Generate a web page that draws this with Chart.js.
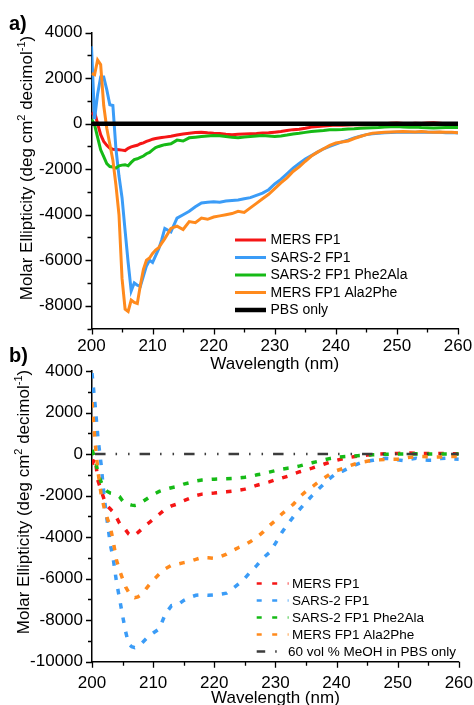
<!DOCTYPE html>
<html>
<head>
<meta charset="utf-8">
<title>CD spectra</title>
<script src="https://cdn.jsdelivr.net/npm/chart.js@4"></script>
<style>
  html, body { margin: 0; padding: 0; background: #fff; }
  body { width: 474px; height: 705px; position: relative; overflow: hidden; }
  .panel { position: absolute; left: 0; width: 484px; }
  #panelA { top: 0; height: 380px; }
  #panelB { top: 340px; height: 375px; }
</style>
</head>
<body>
<div class="panel" id="panelA"><canvas id="chartA"></canvas></div>
<div class="panel" id="panelB"><canvas id="chartB"></canvas></div>
<script>
// ============================================
// CD spectra: a) in PBS, b) in 60 vol % MeOH
// ============================================

var FONT = '"Liberation Sans", Arial, sans-serif';

// ---- Panel a: wavelengths (nm) and molar ellipticity ----
var wavelengthsA = [200, 200.5, 201, 201.5, 202, 202.5, 203, 203.5, 204, 204.5, 205, 205.5, 206, 206.5, 207, 207.5,
    208, 208.5, 209, 209.5, 210, 210.5, 211, 211.5, 212,
    213, 214, 215, 216, 217, 218, 219, 220, 221, 222,
    223, 224, 225, 226, 227, 228, 229, 230, 231, 232,
    233, 234, 235, 236, 237, 238, 239, 240, 241, 242,
    243, 244, 245, 246, 247, 248, 249, 250, 251, 252,
    253, 254, 255, 256, 257, 258, 259, 260];

var mersFp1A = [400, 520, 0, -480, -780, -950, -1080, -1120, -1130, -1140, -1160, -1180, -1080, -1020, -980, -950,
    -880, -840, -780, -730, -680, -650, -630, -610, -590,
    -550, -500, -450, -420, -390, -370, -400, -420, -430, -460,
    -480, -460, -450, -440, -430, -410, -400, -370, -340, -300,
    -260, -240, -200, -150, -120, -100, -80, -60, -70, -60,
    -50, -40, -40, -30, -20, 0, 20, 30, 10, 0,
    20, 10, 30, 40, 20, 0, -10, -30];

var sars2Fp1A = [3400, 200, 1300, 2050, 2050, 1500, 830, 800, -1100, -2300, -3250, -4700, -6100, -7350, -7000, -7100,
    -7150, -6700, -6250, -6000, -6100, -5800, -5500, -5100, -4600,
    -4750, -4150, -4000, -3850, -3650, -3480, -3450, -3430, -3450, -3400,
    -3370, -3350, -3300, -3250, -3150, -3050, -2900, -2650, -2450, -2200,
    -1950, -1750, -1550, -1400, -1250, -1100, -1000, -900, -800, -720,
    -620, -550, -480, -440, -420, -400, -390, -380, -370, -370,
    -380, -360, -370, -380, -370, -400, -390, -410];

var sars2Phe2AlaA = [200, -40, -600, -1150, -1450, -1750, -1880, -1900, -1950, -1850, -1820, -1800, -1850, -1700, -1580, -1540,
    -1480, -1420, -1320, -1260, -1150, -1050, -1000, -960, -920,
    -880, -720, -760, -620, -590, -560, -540, -520, -530, -560,
    -600, -620, -580, -560, -540, -520, -540, -560, -540, -500,
    -450, -420, -380, -340, -320, -300, -270, -260, -250, -230,
    -220, -200, -190, -180, -170, -150, -130, -120, -140, -160,
    -150, -170, -180, -190, -180, -170, -170, -170];

var mersAla2PheA = [2200, 2150, 2800, 2600, 800, -200, -900, -1600, -2700, -4000, -6800, -8150, -8250, -7750, -7850, -7900,
    -7100, -6400, -6000, -5900, -5700, -5550, -5450, -5250, -5050,
    -4600, -4500, -4650, -4300, -4350, -4150, -4200, -4100, -4050, -4000,
    -3950, -3850, -3900, -3700, -3500, -3300, -3100, -2850, -2600, -2380,
    -2100, -1900, -1650, -1420, -1250, -1100, -950, -850, -800, -760,
    -650, -560, -480, -420, -400, -380, -360, -350, -340, -350,
    -360, -340, -360, -370, -360, -370, -380, -400];

var pbsWavelengthsA = [200, 260];
var pbsA = [0, 0];

// ---- Panel b ----
var wavelengthsB = [200, 200.5, 201, 201.5, 202, 202.5, 203, 203.5, 204, 204.5, 205, 205.5, 206, 206.5, 207, 207.5,
    208, 208.5, 209, 209.5, 210,
    211, 212, 213, 214, 215, 216, 217, 218, 219, 220,
    221, 222, 223, 224, 225, 226, 227, 228, 229, 230,
    231, 232, 233, 234, 235, 236, 237, 238, 239, 240,
    241, 242, 243, 244, 245, 246, 247, 248, 249, 250,
    251, 252, 253, 254, 255, 256, 257, 258, 259, 260];

var mersFp1B = [-500, -200, -1300, -1750, -2200, -2500, -2650, -2800, -3050, -3330, -3500, -3650, -3850, -3950, -3900, -3780,
    -3650, -3500, -3380, -3270, -3150,
    -2900, -2650, -2500, -2400, -2250, -2130, -2000, -1930, -1900, -1880,
    -1850, -1820, -1790, -1740, -1690, -1600, -1500, -1420, -1340, -1240,
    -1160, -1070, -950, -850, -760, -680, -580, -480, -380, -300,
    -230, -170, -120, -80, -50, -20, 0, 10, 20, 30,
    40, 50, 40, 30, 30, 20, 30, 30, 20, 10];

var sars2Fp1B = [3900, 2380, 700, -520, -2100, -3250, -4350, -5100, -6150, -6950, -7780, -8550, -9150, -9280, -9320, -9260,
    -9150, -9000, -8850, -8720, -8620,
    -8420, -7700, -7300, -7270, -7050, -6900, -6800, -6780, -6800, -6780,
    -6750, -6700, -6480, -6250, -5980, -5650, -5350, -5000, -4750, -4300,
    -3800, -3380, -3000, -2650, -2320, -2000, -1700, -1420, -1150, -920,
    -820, -680, -530, -420, -350, -300, -250, -200, -220, -280,
    -320, -250, -200, -280, -300, -300, -220, -200, -230, -250];

var sars2Phe2AlaB = [200, -200, -950, -1350, -1650, -1800, -1880, -1910, -1950, -2050, -2250, -2380, -2420, -2460, -2480, -2450,
    -2350, -2250, -2150, -2050, -1950,
    -1800, -1700, -1620, -1560, -1450, -1380, -1300, -1250, -1230, -1210,
    -1200, -1190, -1180, -1150, -1120, -1070, -1000, -950, -870, -800,
    -730, -680, -640, -570, -490, -420, -350, -280, -210, -160,
    -130, -110, -90, -70, -50, -30, -20, -10, 0, 0,
    0, 0, 10, 0, 0, 0, 10, 0, 0, 0];

var mersAla2PheB = [2500, 600, -900, -1950, -2600, -3100, -3500, -4250, -5100, -5600, -6000, -6400, -6650, -6850, -6920, -6880,
    -6780, -6620, -6430, -6250, -6080,
    -5780, -5520, -5360, -5300, -5230, -5170, -5070, -4980, -4990, -5020,
    -4940, -4820, -4650, -4500, -4380, -4200, -4000, -3750, -3450, -3200,
    -2900, -2650, -2400, -2050, -1800, -1580, -1350, -1150, -950, -800,
    -700, -580, -480, -400, -350, -300, -280, -260, -250, -250,
    -200, -150, -130, -120, -130, -150, -140, -120, -120, -120];

var meohWavelengthsB = [200.5, 260];
var meohB = [0, 0];

// axis ticks
var xTicks = { min: 200, max: 260, step: 5, labelEvery: 10 };
var yTicksA = { min: -9000, max: 4000, step: 1000, labelEvery: 2000 };
var yTicksB = { min: -10000, max: 4000, step: 1000, labelEvery: 2000 };

var COLORS = {
    red: '#F51616',
    blue: '#3B9CF7',
    green: '#16BA16',
    orange: '#FF8A1D',
    black: '#000000',
    grey: '#3C3C3C'
};

function pairs(xs, ys) {
    var out = [];
    for (var i = 0; i < xs.length; i++) out.push({ x: xs[i], y: ys[i] });
    return out;
}

// --------------------------------------------------
//  Plugins: minor/major tick marks, legend, y title, panel tag
// --------------------------------------------------
var tickMarks = {
    id: 'tickMarks',
    afterDraw: function (chart) {
        var ctx = chart.ctx;
        var sx = chart.scales.x, sy = chart.scales.y;
        ctx.save();
        ctx.strokeStyle = '#000';
        ctx.lineWidth = 1.3;
        ctx.beginPath();
        sx.ticks.forEach(function (t) {
            var len = t.value % xTicks.labelEvery === 0 ? 6 : 4;
            var px = Math.round(sx.getPixelForValue(t.value)) + 0.5;
            ctx.moveTo(px, sx.top);
            ctx.lineTo(px, sx.top + len);
        });
        sy.ticks.forEach(function (t) {
            var len = t.value % 2000 === 0 ? 6 : 4;
            var py = Math.round(sy.getPixelForValue(t.value)) + 0.5;
            ctx.moveTo(sy.right, py);
            ctx.lineTo(sy.right - len, py);
        });
        ctx.stroke();
        ctx.restore();
    }
};

var lineLegend = {
    id: 'lineLegend',
    afterDraw: function (chart, args, opts) {
        var ctx = chart.ctx;
        ctx.save();
        ctx.font = opts.fontSize + 'px ' + FONT;
        ctx.textBaseline = 'middle';
        ctx.textAlign = 'left';
        chart.data.datasets.forEach(function (ds, i) {
            var y = opts.top + i * opts.rowGap;
            ctx.beginPath();
            ctx.strokeStyle = ds.borderColor;
            ctx.lineWidth = ds.legendWidth || ds.borderWidth;
            ctx.lineCap = 'butt';
            ctx.setLineDash(ds.legendDash || ds.borderDash || []);
            ctx.moveTo(opts.x0, y);
            ctx.lineTo(opts.x1, y);
            ctx.stroke();
            ctx.setLineDash([]);
            ctx.fillStyle = '#000';
            ctx.fillText(ds.label, ds.legendTextX || opts.textX, y + 0.5);
        });
        ctx.restore();
    }
};

var yTitle = {
    id: 'yTitle',
    afterDraw: function (chart, args, opts) {
        var ctx = chart.ctx;
        var base = opts.fontSize, sup = Math.round(base * 0.62);
        var parts = [
            ['Molar Ellipticity (deg cm', false],
            ['2', true],
            [' decimol', false],
            ['-1', true],
            [')', false]
        ];
        ctx.save();
        ctx.translate(opts.x, opts.y);
        ctx.rotate(-Math.PI / 2);
        ctx.fillStyle = '#000';
        ctx.textBaseline = 'alphabetic';
        ctx.textAlign = 'left';
        var total = 0;
        parts.forEach(function (p) {
            ctx.font = (p[1] ? sup : base) + 'px ' + FONT;
            total += ctx.measureText(p[0]).width;
        });
        var cx = -total / 2;
        parts.forEach(function (p) {
            ctx.font = (p[1] ? sup : base) + 'px ' + FONT;
            ctx.fillText(p[0], cx, p[1] ? -base * 0.4 : 0);
            cx += ctx.measureText(p[0]).width;
        });
        ctx.restore();
    }
};

var panelTag = {
    id: 'panelTag',
    afterDraw: function (chart, args, opts) {
        var ctx = chart.ctx;
        ctx.save();
        ctx.font = 'bold 20px ' + FONT;
        ctx.fillStyle = '#000';
        ctx.textBaseline = 'alphabetic';
        ctx.fillText(opts.text, opts.x, opts.y);
        ctx.restore();
    }
};

// --------------------------------------------------
//  Chart builder
// --------------------------------------------------
function buildChart(canvasId, datasets, cfg) {
    var tickFont = { family: FONT, size: 17 };
    return new Chart(document.getElementById(canvasId), {
        type: 'line',
        data: { datasets: datasets },
        plugins: [tickMarks, lineLegend, yTitle, panelTag],
        options: {
            responsive: true,
            maintainAspectRatio: false,
            animation: false,
            layout: { padding: { left: 0, right: cfg.padRight, top: cfg.padTop, bottom: 0 } },
            elements: { point: { radius: 0 }, line: { tension: 0 } },
            plugins: {
                legend: { display: false },
                tooltip: { enabled: false },
                lineLegend: cfg.legend,
                yTitle: cfg.yTitle,
                panelTag: cfg.tag
            },
            scales: {
                x: {
                    type: 'linear',
                    min: xTicks.min,
                    max: xTicks.max,
                    afterFit: function (scale) { scale.height = cfg.xHeight; },
                    grid: { display: false, drawTicks: false },
                    border: { display: true, color: '#000', width: 1.5 },
                    ticks: {
                        stepSize: xTicks.step,
                        autoSkip: false,
                        maxRotation: 0,
                        padding: cfg.xTickPad,
                        color: '#000',
                        font: tickFont,
                        callback: function (v) { return v % xTicks.labelEvery === 0 ? String(v) : ''; }
                    },
                    title: {
                        display: true,
                        text: 'Wavelength (nm)',
                        color: '#000',
                        font: { family: FONT, size: 17 },
                        padding: { top: 0, bottom: cfg.xTitlePad }
                    }
                },
                y: {
                    type: 'linear',
                    min: cfg.yTicks.min,
                    max: cfg.yTicks.max,
                    afterFit: function (scale) { scale.width = cfg.yWidth; },
                    grid: { display: false, drawTicks: false },
                    border: { display: true, color: '#000', width: 1.5 },
                    ticks: {
                        stepSize: cfg.yTicks.step,
                        autoSkip: false,
                        padding: 9,
                        color: '#000',
                        font: tickFont,
                        callback: function (v) { return v % cfg.yTicks.labelEvery === 0 ? String(v) : ''; }
                    }
                }
            }
        }
    });
}

// Panel a: solid lines
buildChart('chartA', [
    { label: 'MERS FP1', data: pairs(wavelengthsA, mersFp1A), borderColor: COLORS.red, borderWidth: 3, order: 5 },
    { label: 'SARS-2 FP1', data: pairs(wavelengthsA, sars2Fp1A), borderColor: COLORS.blue, borderWidth: 3, order: 4 },
    { label: 'SARS-2 FP1 Phe2Ala', data: pairs(wavelengthsA, sars2Phe2AlaA), borderColor: COLORS.green, borderWidth: 3, order: 3 },
    { label: 'MERS FP1 Ala2Phe', data: pairs(wavelengthsA, mersAla2PheA), borderColor: COLORS.orange, borderWidth: 3, order: 2 },
    { label: 'PBS only', data: pairs(pbsWavelengthsA, pbsA), borderColor: COLORS.black, borderWidth: 4.5, order: 1 }
], {
    padTop: 32.7, padRight: 26, yWidth: 91.5, xHeight: 51.5,
    xTickPad: 8, xTitlePad: 5, yTicks: yTicksA,
    legend: { x0: 235, x1: 266, textX: 270.5, top: 240, rowGap: 17.5, fontSize: 14 },
    yTitle: { x: 31.5, y: 168, fontSize: 17 },
    tag: { text: 'a)', x: 9, y: 30 }
});

// Panel b: dashed lines
var DASH = [5.5, 9];
buildChart('chartB', [
    { label: 'MERS FP1', data: pairs(wavelengthsB, mersFp1B), borderColor: COLORS.red, borderWidth: 3.5, borderDash: DASH,
      legendDash: [5, 10.5], legendWidth: 2.4, order: 5 },
    { label: 'SARS-2 FP1', data: pairs(wavelengthsB, sars2Fp1B), borderColor: COLORS.blue, borderWidth: 3.5, borderDash: DASH,
      legendDash: [5, 10.5], legendWidth: 2.4, order: 4 },
    { label: 'SARS-2 FP1 Phe2Ala', data: pairs(wavelengthsB, sars2Phe2AlaB), borderColor: COLORS.green, borderWidth: 3.5, borderDash: DASH,
      legendDash: [5, 10.5], legendWidth: 2.4, order: 3 },
    { label: 'MERS FP1 Ala2Phe', data: pairs(wavelengthsB, mersAla2PheB), borderColor: COLORS.orange, borderWidth: 3.5, borderDash: DASH,
      legendDash: [5, 10.5], legendWidth: 2.4, order: 2 },
    { label: '60 vol % MeOH in PBS only', data: pairs(meohWavelengthsB, meohB), borderColor: COLORS.grey, borderWidth: 2.5,
      borderDash: [10.5, 10, 1.5, 11, 1.5, 10], legendDash: [8.5, 10, 1.5, 40], legendWidth: 2.4, legendTextX: 288, order: 1 }
], {
    padTop: 31, padRight: 25, yWidth: 92, xHeight: 53.3,
    xTickPad: 11, xTitlePad: 6.5, yTicks: yTicksB,
    legend: { x0: 256.7, x1: 288.5, textX: 292, top: 243.5, rowGap: 17, fontSize: 13.5 },
    yTitle: { x: 29, y: 162, fontSize: 17 },
    tag: { text: 'b)', x: 9, y: 22 }
});
</script>
</body>
</html>
